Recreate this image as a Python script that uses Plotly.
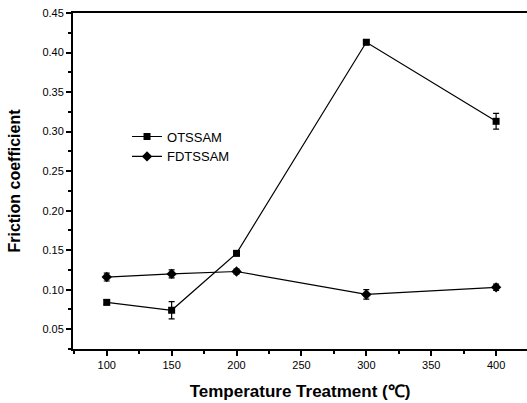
import plotly.graph_objects as go

temps = [100, 150, 200, 300, 400]
ots = [0.084, 0.074, 0.146, 0.413, 0.313]
ots_err = [0.003, 0.011, 0.003, 0.003, 0.010]
fdt = [0.116, 0.120, 0.123, 0.094, 0.103]
fdt_err = [0.005, 0.005, 0.003, 0.006, 0.004]

fig = go.Figure()
fig.add_trace(go.Scatter(
    x=temps, y=ots, name="OTSSAM", mode="lines+markers",
    line=dict(color="black", width=1.2),
    marker=dict(symbol="square", size=7, color="black"),
    error_y=dict(type="data", array=ots_err, color="black", thickness=1.2, width=3),
))
fig.add_trace(go.Scatter(
    x=temps, y=fdt, name="FDTSSAM", mode="lines+markers",
    line=dict(color="black", width=1.2),
    marker=dict(symbol="diamond", size=8, color="black"),
    error_y=dict(type="data", array=fdt_err, color="black", thickness=1.2, width=3),
))

font_family = "Liberation Sans, Arial, sans-serif"
fig.update_layout(
    width=527, height=403,
    margin=dict(l=73, r=0, t=13, b=54),
    plot_bgcolor="white", paper_bgcolor="white",
    font=dict(family=font_family, color="black"),
    showlegend=True,
    legend=dict(x=0.119, y=0.677, xanchor="left", yanchor="top",
                bgcolor="rgba(0,0,0,0)", font=dict(size=13, family=font_family),
                itemwidth=30, tracegroupgap=0),
    xaxis=dict(
        range=[74, 423.8], tickvals=[100, 150, 200, 250, 300, 350, 400],
        automargin=False, ticklabeloverflow="allow",
        ticks="outside", ticklen=5, tickwidth=1.5, tickcolor="black",
        minor=dict(dtick=25, tick0=0, ticks="outside", ticklen=3, tickcolor="black"),
        showline=True, linecolor="black", linewidth=2, mirror=True,
        showgrid=False, zeroline=False,
        tickfont=dict(size=11),
        title=dict(text="<b>Temperature Treatment (℃)</b>", font=dict(size=17), standoff=15),
    ),
    yaxis=dict(
        range=[0.025, 0.45], tickvals=[0.05, 0.10, 0.15, 0.20, 0.25, 0.30, 0.35, 0.40, 0.45],
        tickformat=".2f", automargin=False, ticklabeloverflow="allow",
        ticks="outside", ticklen=5, tickwidth=1.5, tickcolor="black",
        minor=dict(dtick=0.025, tick0=0, ticks="outside", ticklen=3, tickcolor="black"),
        showline=True, linecolor="black", linewidth=2, mirror=False,
        showgrid=False, zeroline=False,
        tickfont=dict(size=11),
        title=dict(text="<b>Friction coefficient</b>", font=dict(size=16), standoff=18),
    ),
)
fig.write_html(
    "out.html",
    config={"displayModeBar": False},
    post_script="document.body.style.margin='0';document.documentElement.style.overflow='hidden';document.body.style.overflow='hidden';",
)
